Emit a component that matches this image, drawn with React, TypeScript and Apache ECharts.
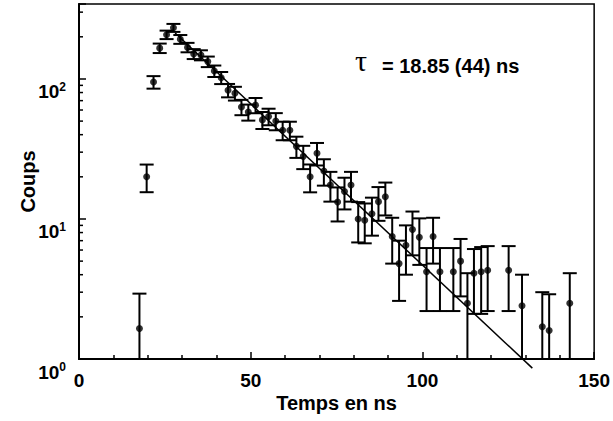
import React, { useEffect, useRef } from "react";
import * as echarts from "echarts";

const timeNs = [
  17.6, 19.7, 21.7, 23.5, 25.5, 27.5, 29.5, 31.6, 33.4, 35.5,
  37.5, 39.4, 41.4, 43.4, 45.4, 47.3, 49.3, 51.4, 53.4, 55.2,
  57.3, 59.3, 61.4, 63.3, 65.3, 67.3, 69.3, 71.3, 73.2, 75.3,
  77.3, 79.2, 81.3, 83.2, 85.3, 87.2, 89.2, 91.2, 93.2, 95.2,
  97.1, 99.1, 101.2, 103.1, 105.1, 109.0, 111.1, 113.1, 115.0, 117.1,
  119.0, 125.1, 129.0, 134.9, 136.9, 142.9,
];
const counts = [
  1.65, 20.0, 95, 166, 207, 232, 192, 168, 151, 148,
  133, 114, 102, 83, 79, 63, 58, 65, 51, 54,
  50, 43, 43, 33, 28, 20, 29.5, 22, 17.5, 13.2,
  15.7, 17.5, 10, 9.8, 10.9, 13.3, 14.4, 7.5, 4.8, 6.5,
  8.4, 7.4, 4.2, 7.5, 4.2, 4.2, 5.0, 2.5, 4.1, 4.2,
  4.3, 4.3, 2.4, 1.7, 1.6, 2.5,
];
const countErrors = [
  1.28, 4.47, 9.75, 12.9, 14.4, 15.2, 13.9, 13.0, 12.3, 12.2,
  11.5, 10.7, 10.1, 9.1, 8.9, 7.9, 7.6, 8.1, 7.1, 7.3,
  7.0, 6.5, 6.5, 5.7, 5.3, 4.5, 5.4, 4.7, 4.2, 3.6,
  4.0, 4.2, 3.2, 3.1, 3.3, 3.6, 3.8, 2.7, 2.2, 2.5,
  2.9, 2.7, 2.0, 2.7, 2.0, 2.0, 2.2, 1.6, 2.0, 2.1,
  2.1, 2.1, 1.6, 1.3, 1.3, 1.6,
];

// Exponential fit, tau = 18.85 ns (straight line on the log scale)
const fitTimes = [28, 132];
const fitCounts = [213, 0.86];

const xTicks = [0, 50, 100, 150];
const yMinorTicks = [2, 3, 4, 5, 6, 7, 8, 9, 20, 30, 40, 50, 60, 70, 80, 90, 200, 300];

const X_MIN = 0;
const X_MAX = 150;
const Y_MIN = 1;
const Y_MAX = 343;

const FONT = "'Liberation Sans', Arial, Helvetica, sans-serif";

export default function App() {
  const ref = useRef<HTMLDivElement>(null);

  useEffect(() => {
    if (!ref.current) return;
    const chart = echarts.init(ref.current, undefined, { renderer: "svg" });

    const points = timeNs.map((t, i) => [t, counts[i]]);
    const bars = timeNs.map((t, i) => [t, counts[i], countErrors[i]]);
    const fit = fitTimes.map((t, i) => [t, fitCounts[i]]);
    const minor = yMinorTicks.map((v) => [X_MIN, v]);

    const black = "#000";

    chart.setOption({
      animation: false,
      backgroundColor: "#fff",
      grid: {
        left: 79,
        right: 15,
        top: 4,
        bottom: 62,
        show: true,
        borderColor: black,
        borderWidth: 1.5,
        backgroundColor: "transparent",
      },
      xAxis: {
        type: "value",
        min: X_MIN,
        max: X_MAX,
        interval: 50,
        name: "Temps en ns",
        nameLocation: "middle",
        nameGap: 34,
        nameMoveOverlap: false,
        nameTextStyle: { fontFamily: FONT, fontWeight: "bold", fontSize: 20, color: black },
        axisLine: { lineStyle: { color: black, width: 2 } },
        axisTick: { inside: true, length: 7, lineStyle: { color: black, width: 1.5 } },
        minorTick: { show: true, splitNumber: 5, length: 4, lineStyle: { color: black, width: 1.5 } },
        splitLine: { show: false },
        axisLabel: {
          margin: 12,
          fontFamily: FONT,
          fontWeight: "bold",
          fontSize: 19,
          color: black,
          formatter: (v: number) => (xTicks.indexOf(v) >= 0 ? String(v) : ""),
        },
      },
      yAxis: {
        type: "log",
        logBase: 10,
        min: Y_MIN,
        max: Y_MAX,
        name: "Coups",
        nameLocation: "middle",
        nameGap: 41,
        nameMoveOverlap: false,
        nameTextStyle: { fontFamily: FONT, fontWeight: "bold", fontSize: 20, color: black },
        axisLine: { show: true, lineStyle: { color: black, width: 2 } },
        axisTick: { inside: true, length: 7, lineStyle: { color: black, width: 1.5 } },
        splitLine: { show: false },
        axisLabel: {
          margin: 13,
          padding: [26, 0, 0, 0],
          formatter: (v: number) => {
            const l = Math.log10(v);
            const e = Math.round(l);
            if (Math.abs(l - e) > 1e-6) return "";
            return `{b|10}{s|${e}}`;
          },
          rich: {
            b: { fontFamily: FONT, fontWeight: "bold", fontSize: 19, color: black, lineHeight: 22 },
            s: { fontFamily: FONT, fontWeight: "bold", fontSize: 12, color: black, verticalAlign: "top", lineHeight: 14 },
          },
        },
      },
      graphic: [
        {
          type: "text",
          left: 355,
          top: 45,
          silent: true,
          style: { text: "τ", font: "30px 'Liberation Serif', 'Times New Roman', serif", fill: black },
        },
        {
          type: "text",
          left: 382,
          top: 56,
          silent: true,
          style: { text: "= 18.85 (44) ns", font: `bold 20px ${FONT}`, fill: black },
        },
      ],
      series: [
        {
          type: "custom",
          name: "minorTicks",
          silent: true,
          clip: false,
          data: minor,
          encode: { x: 0, y: 1 },
          renderItem: (_p: any, api: any) => {
            const c = api.coord([api.value(0), api.value(1)]);
            return {
              type: "line",
              shape: { x1: c[0], y1: c[1], x2: c[0] + 4, y2: c[1] },
              style: { stroke: black, lineWidth: 1.5 },
            };
          },
        },
        {
          type: "custom",
          name: "errors",
          silent: true,
          data: bars,
          encode: { x: 0, y: 1 },
          renderItem: (_p: any, api: any) => {
            const x = api.value(0) as number;
            const y = api.value(1) as number;
            const e = api.value(2) as number;
            const hiV = Math.min(y + e, Y_MAX);
            const loV = y - e;
            const clipped = loV <= Y_MIN;
            const top = api.coord([x, hiV]);
            const bot = api.coord([x, clipped ? Y_MIN : loV]);
            const half = 7;
            const st = { stroke: black, lineWidth: 2 };
            const children: any[] = [
              { type: "line", shape: { x1: top[0], y1: top[1], x2: bot[0], y2: bot[1] }, style: st },
              { type: "line", shape: { x1: top[0] - half, y1: top[1], x2: top[0] + half, y2: top[1] }, style: st },
            ];
            if (!clipped) {
              children.push({
                type: "line",
                shape: { x1: bot[0] - half, y1: bot[1], x2: bot[0] + half, y2: bot[1] },
                style: st,
              });
            }
            return { type: "group", children };
          },
        },
        {
          type: "line",
          name: "fit",
          data: fit,
          showSymbol: false,
          symbol: "none",
          silent: true,
          clip: false,
          lineStyle: { color: black, width: 1.5 },
        },
        {
          type: "scatter",
          name: "counts",
          data: points,
          symbol: "circle",
          symbolSize: 7,
          silent: true,
          itemStyle: { color: black },
        },
      ],
    });

    return () => chart.dispose();
  }, []);

  return (
    <div
      ref={ref}
      style={{ position: "fixed", left: 0, top: 0, width: 613, height: 421, background: "#fff" }}
    />
  );
}
